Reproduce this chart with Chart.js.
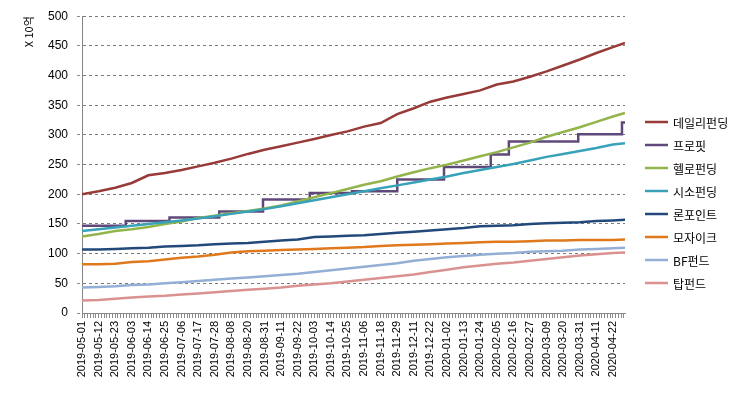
<!DOCTYPE html>
<html>
<head>
<meta charset="utf-8">
<script src="https://cdn.jsdelivr.net/npm/chart.js@4.4.1/dist/chart.umd.min.js"></script>
<style>
  html, body { margin: 0; padding: 0; background: #ffffff; }
  #wrap { width: 750px; height: 399px; position: relative; }
</style>
</head>
<body>
<div id="wrap"><canvas id="c" width="750" height="399"></canvas></div>
<script>
// ---- DATA ----
// x positions are trading-day indices; a tick label every 11 positions
const tickLabels = [
  '2019-05-01','2019-05-12','2019-05-23','2019-06-03','2019-06-14','2019-06-25',
  '2019-07-06','2019-07-17','2019-07-28','2019-08-08','2019-08-20','2019-08-31',
  '2019-09-11','2019-09-22','2019-10-03','2019-10-14','2019-10-25','2019-11-06',
  '2019-11-18','2019-11-29','2019-12-11','2019-12-22','2020-01-02','2020-01-13',
  '2020-01-24','2020-02-05','2020-02-16','2020-02-27','2020-03-09','2020-03-20',
  '2020-03-31','2020-04-11','2020-04-22'
];
const seriesNames = ['데일리펀딩','프로핏','헬로펀딩','시소펀딩','론포인트','모자이크','BF펀드','탑펀드'];

const sampleDays = [0,11,22,33,44,55,66,77,88,99,110,121,132,143,154,165,176,187,198,209,220,231,242,253,264,275,286,297,308,319,330,341,352,360];

const dailyFund  = [200,205,211,219,232,236,241,247,253,260,268,275,281,287,293,300,306,314,320,335,345,356,363,369,375,385,390,398,407,417,427,438,448,455];
const helloFund  = [129,133,138,141,145,150,154,160,164,168,172,176,181,188,195,202,209,216,222,230,237,244,250,257,264,271,279,287,297,305,313,322,331,337];
const seesoFund  = [138,141,144,147,150,153,156,159,163,167,171,175,180,185,190,195,200,205,210,215,220,225,230,236,241,246,251,257,263,268,273,278,284,286];
const loanPoint  = [107,107,108,109,110,112,113,114,116,117,118,120,122,124,128,129,130,131,133,135,137,139,141,143,146,147,148,150,151,152,153,155,156,157];
const mosaicFund = [82,82,83,86,87,90,93,95,98,102,104,105,106,107,108,109,110,111,113,114,115,116,117,118,119,120,120,121,122,122,123,123,123,124];
const bfFund     = [43,44,45,47,48,50,52,54,56,58,60,62,64,66,69,72,75,78,81,84,88,91,94,96,98,100,101,103,104,105,107,108,109,110];
const topFund    = [21,22,24,26,28,29,31,33,35,37,39,41,43,46,48,50,53,56,59,62,65,69,73,77,80,83,85,88,91,94,97,99,101,102];

// 프로핏 moves in steps: day index of each step and the level after it
const profitDays   = [0,29,58,91,120,151,179,209,240,271,283,329,358,360];
const profitValues = [147,155,161,171,191,202,205,225,246,267,289,301,321,321];

const yTicks = [0,50,100,150,200,250,300,350,400,450,500];

const colors = ['#973A38','#5F497A','#92B54B','#38A2B8','#22497A','#E0791C','#93AFD6','#D99290'];

// ---- build ----
function pts(xs, ys) { return xs.map((x, i) => ({x: x, y: ys[i]})); }
const seriesPoints = [
  pts(sampleDays, dailyFund),
  pts(profitDays, profitValues),
  pts(sampleDays, helloFund),
  pts(sampleDays, seesoFund),
  pts(sampleDays, loanPoint),
  pts(sampleDays, mosaicFund),
  pts(sampleDays, bfFund),
  pts(sampleDays, topFund)
];

const datasets = seriesNames.map((name, i) => ({
  label: name,
  data: seriesPoints[i],
  borderColor: colors[i],
  backgroundColor: colors[i],
  borderWidth: 2.5,
  pointRadius: 0,
  pointHoverRadius: 0,
  tension: 0,
  stepped: i === 1 ? true : false,
  order: -i
}));

const lastDay = 360;
const minorStep = 11 / 6;

const legendPlugin = {
  id: 'sideLegend',
  afterDraw(chart) {
    const ctx = chart.ctx;
    ctx.save();
    chart.data.datasets.forEach((ds, i) => {
      const y = 122 + 23 * i;
      ctx.strokeStyle = ds.borderColor;
      ctx.lineWidth = 2.5;
      ctx.beginPath();
      ctx.moveTo(645, y);
      ctx.lineTo(668, y);
      ctx.stroke();
      ctx.fillStyle = '#000';
      ctx.font = '12px "Noto Sans CJK KR", "Noto Sans", sans-serif';
      ctx.textBaseline = 'middle';
      ctx.textAlign = 'left';
      ctx.fillText(ds.label, 673, y + 1);
    });
    ctx.restore();
  }
};

new Chart(document.getElementById('c'), {
  type: 'line',
  data: { datasets: datasets },
  options: {
    responsive: false,
    animation: false,
    events: [],
    layout: { padding: { left: 0, right: 125, top: 13, bottom: 0 } },
    plugins: { legend: { display: false }, tooltip: { enabled: false } },
    scales: {
      x: {
        type: 'linear',
        min: 0,
        max: lastDay,
        afterBuildTicks(scale) {
          const t = [];
          for (let i = 0; i * minorStep <= lastDay + 1e-9; i++) t.push({ value: i * minorStep });
          scale.ticks = t;
        },
        afterFit(scale) { scale.height = 86; },
        grid: {
          drawOnChartArea: false,
          drawTicks: true,
          tickLength: 5,
          tickColor: '#8a8a8a',
          tickWidth: 1
        },
        border: { display: true, color: '#868686', width: 1 },
        ticks: {
          autoSkip: false,
          maxRotation: 90,
          minRotation: 90,
          padding: 3,
          color: '#000',
          font: { family: '"Liberation Sans", Arial, sans-serif', size: 11 },
          callback: function(value, index) {
            return (index % 6 === 0 && tickLabels[index / 6]) ? tickLabels[index / 6] : '';
          }
        }
      },
      y: {
        min: 0,
        max: 500,
        afterBuildTicks(scale) { scale.ticks = yTicks.map(v => ({ value: v })); },
        afterFit(scale) { scale.width = 82; },
        grid: {
          color: '#7a7a7a',
          lineWidth: 1,
          drawTicks: true,
          tickLength: 5,
          tickColor: '#8c8c8c',
          tickBorderDash: [3, 3]
        },
        border: { display: true, color: '#868686', width: 1, dash: [3, 3] },
        ticks: {
          padding: 9,
          color: '#000',
          font: { family: '"Liberation Sans", Arial, sans-serif', size: 12 }
        },
        title: {
          display: true,
          text: 'X 10억',
          align: 'end',
          color: '#000',
          padding: { top: 22, bottom: 0 },
          font: { family: '"Noto Sans CJK KR", "Liberation Sans", sans-serif', size: 11 }
        }
      }
    }
  },
  plugins: [legendPlugin]
});
</script>
</body>
</html>
